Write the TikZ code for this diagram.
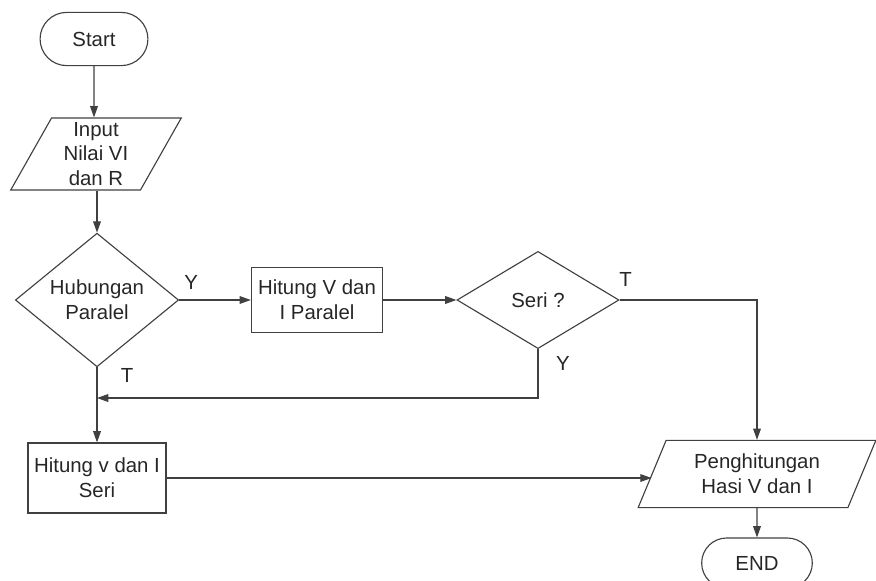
\documentclass[tikz,border=0pt]{standalone}
\usepackage{fontspec}
\setmainfont{Liberation Sans}
\usetikzlibrary{calc,arrows.meta,shapes.geometric,shapes.misc}

\begin{document}
\begin{tikzpicture}[x=0.025cm, y=-0.025cm,
    font=\fontsize{14.5}{17.5}\selectfont, text=black!85,
    line/.style={draw=black!75, line width=0.8pt},
    arr/.style={-{Triangle[length=8pt,width=5.5pt]}},
    term/.style={rounded rectangle, line, minimum width=2.93cm, minimum height=1.33cm},
    io/.style={trapezium, line, trapezium stretches=true, trapezium left angle=65,
        trapezium right angle=115, align=center, inner sep=1pt},
    proc/.style={rectangle, line, align=center},
    decide/.style={diamond, line, align=center, inner sep=0pt},
    lbl/.style={inner sep=1pt}]
    \clip (0,0) rectangle (876,580);

    % terminals and shapes
        \node[term] (start) at (94,39) {Start};
        \node[io, minimum width=4.3cm, minimum height=1.8cm] (input) at (96,154) {Input\\Nilai VI\\dan R};
        \node[decide, minimum width=4.08cm, minimum height=3.23cm] (dia1) at (97,300) {Hubungan\\Paralel};
        \node[proc, minimum width=3.28cm, minimum height=1.63cm] (box2) at (317,300) {Hitung V dan\\I Paralel};
        \node[decide, minimum width=4.05cm, minimum height=2.43cm] (dia2) at (538,300) {Seri ?};
        \node[proc, minimum width=3.45cm, minimum height=1.75cm] (box3) at (97,478) {Hitung v dan I\\Seri};
        \node[io, minimum width=5.95cm, minimum height=1.68cm] (out) at (757,474) {Penghitungan\\Hasi V dan I};
        \node[term, minimum width=3cm, minimum height=1.25cm] (end) at (757,563) {END};

    % join point of the two branches
        \coordinate (join) at (97,398);

    % draw connectors
        \draw[line,arr] (start) -- (start.south |- input.north);
        \draw[line,arr] (input.south -| dia1.north) -- (dia1.north);
        \draw[line,arr] (dia1.east) -- (box2.west);
        \draw[line,arr] (box2.east) -- (dia2.west);
        \draw[line,arr] (dia2.east) -| (out.north);
        \draw[line,arr] (dia2.south) |- (join);
        \draw[line,arr] (dia1.south) -- (box3.north);
        \draw[line,arr] (box3.east) -- (box3.east -| out.west);
        \draw[line,arr] (out.south) -- (end.north);

    % branch labels
    \node[lbl] (y1) at ($(dia1.east)+(12,-18)$) {Y};
    \node[lbl] (t1) at ($(dia1.south)+(30,8)$) {T};
    \node[lbl] (t2) at ($(dia2.east)+(6,-21)$) {T};
    \node[lbl] (y2) at ($(dia2.south)+(25,14)$) {Y};

    \end{tikzpicture}
\end{document}
